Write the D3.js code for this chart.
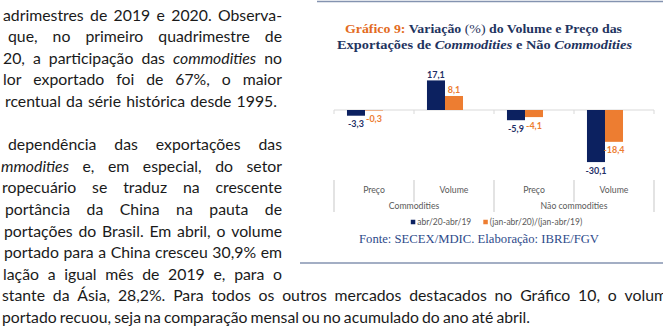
<!DOCTYPE html>
<html>
<head>
<meta charset="utf-8">
<script src="https://cdn.jsdelivr.net/npm/d3@7"></script>
<style>
html, body { margin: 0; padding: 0; background: #fff; overflow: hidden; }
svg { display: block; }
</style>
</head>
<body>
<div id="mainDiv"></div>
<script>
'use strict';

// dados do gráfico
var categorias     = ['Preço', 'Volume', 'Preço', 'Volume'];
var grupos         = ['Commodities', 'Commodities', 'Não commodities', 'Não commodities'];
var serieMensal    = [-3.3, 17.1, -5.9, -30.1];   // abr/20-abr/19
var serieAcumulada = [-0.3, 8.1, -4.1, -18.4];    // (jan-abr/20)/(jan-abr/19)
var nomesSeries    = ['abr/20-abr/19', '(jan-abr/20)/(jan-abr/19)'];
var coresSeries    = ['#0c2160', '#ed7d31'];
var coresRotulos   = ['#1f2f66', '#ed7d31'];

// texto do documento (linhas cortadas como no original)
var linhasTexto = [
    'adrimestres de 2019 e 2020. Observa-',
    'que, no primeiro quadrimestre de',
    '20, a participação das *commodities* no',
    'lor exportado foi de 67%, o maior',
    'rcentual da série histórica desde 1995.',
    '',
    'dependência das exportações das',
    '*mmodities* e, em especial, do setor',
    'ropecuário se traduz na crescente',
    'portância da China na pauta de',
    'portações do Brasil. Em abril, o volume',
    'portado para a China cresceu 30,9% em',
    'lação a igual mês de 2019 e, para o',
    'stante da Ásia, 28,2%. Para todos os outros mercados destacados no Gráfico 10, o volum',
    'portado recuou, seja na comparação mensal ou no acumulado do ano até abril.'
];

var doc = {};
doc.width = 663;
doc.height = 326;
doc.inicioLinha = [3, 8, 3, 3, 5, 0, 8, 1, 2, 5, 4, 4, 3, 2, 2];
doc.fimLinha    = [282, 282, 282, 282, 277, 0, 282, 282, 282, 282, 282, 282, 282, 667, 530];
doc.fonteTexto  = 15.8;

doc.area = {left: 334, right: 654, zero: 110};

doc.appendSVG = function(DOMObj){
    return d3.select(DOMObj)
        .append('svg')
        .attr('width', doc.width)
        .attr('height', doc.height);
}

doc.desenhaTexto = function(svg){
    var g = svg.append('g')
        .attr('font-family', 'Lato, "Open Sans", sans-serif')
        .attr('font-size', doc.fonteTexto)
        .attr('fill', '#1a1a1a');

    linhasTexto.forEach(function(linha, i){
        if (!linha) return;
        var y = 20.5 + 21.6 * i;
        var palavras = linha.split(' ');
        var nos = palavras.map(function(p){
            var italico = p.charAt(0) === '*';
            var t = g.append('text')
                .attr('y', y)
                .attr('font-style', italico ? 'italic' : null)
                .text(p.replace(/\*/g, ''));
            return {sel: t, w: t.node().getComputedTextLength()};
        });
        var x0 = doc.inicioLinha[i], x1 = doc.fimLinha[i];
        var soma = d3.sum(nos, function(d){ return d.w; });
        var minGap = doc.fonteTexto * 0.2;
        // se não couber, comprime levemente as palavras
        var escala = 1;
        if (soma + minGap * (nos.length - 1) > x1 - x0) {
            escala = (x1 - x0 - minGap * (nos.length - 1)) / soma;
        }
        var gap = nos.length > 1 ? (x1 - x0 - soma * escala) / (nos.length - 1) : 0;
        var x = x0;
        nos.forEach(function(n){
            n.sel.attr('x', x);
            if (escala < 1) {
                n.sel.attr('textLength', n.w * escala).attr('lengthAdjust', 'spacingAndGlyphs');
            }
            x += n.w * escala + gap;
        });
    });
}

doc.desenhaMoldura = function(svg){
    svg.append('line')
        .attr('x1', 317).attr('x2', 663).attr('y1', 1.5).attr('y2', 1.5)
        .attr('stroke', '#8493b0').attr('stroke-width', 1.5);
    svg.append('line')
        .attr('x1', 300).attr('x2', 663).attr('y1', 263).attr('y2', 263)
        .attr('stroke', '#8493b0').attr('stroke-width', 1.5);

    var titulo = svg.append('g')
        .attr('font-family', '"Liberation Serif", "DejaVu Serif", serif')
        .attr('font-weight', 'bold')
        .attr('font-size', 13)
        .attr('text-anchor', 'middle');

    var l1 = titulo.append('text').attr('x', 483.5).attr('y', 32.5)
        .attr('textLength', 277).attr('lengthAdjust', 'spacingAndGlyphs');
    l1.append('tspan').attr('fill', '#e36c1f').text('Gráfico 9:');
    l1.append('tspan').attr('fill', '#1f3460').text(' Variação ');
    l1.append('tspan').attr('fill', '#1f3460').attr('font-weight', 'normal').text('(%)');
    l1.append('tspan').attr('fill', '#1f3460').text(' do Volume e Preço das');

    var l2 = titulo.append('text').attr('x', 484.5).attr('y', 48.5).attr('fill', '#1f3460')
        .attr('textLength', 295).attr('lengthAdjust', 'spacingAndGlyphs');
    l2.append('tspan').text('Exportações de ');
    l2.append('tspan').attr('font-style', 'italic').text('Commodities');
    l2.append('tspan').text(' e Não ');
    l2.append('tspan').attr('font-style', 'italic').text('Commodities');

    svg.append('text')
        .attr('x', 479).attr('y', 242.5)
        .attr('text-anchor', 'middle')
        .attr('font-family', '"Liberation Serif", "DejaVu Serif", serif')
        .attr('font-size', 13)
        .attr('fill', '#2d4a8a')
        .attr('textLength', 240).attr('lengthAdjust', 'spacingAndGlyphs')
        .text('Fonte: SECEX/MDIC. Elaboração: IBRE/FGV');
}

doc.desenhaGrafico = function(svg){
    var area = doc.area;
    var series = [serieMensal, serieAcumulada];

    var xScale = d3.scaleBand()
        .domain(d3.range(categorias.length))
        .range([area.left, area.right]);

    // três posições por grupo, a terceira fica vazia (como no original)
    var serieScale = d3.scaleBand()
        .domain([0, 1, 2])
        .range([0, xScale.bandwidth()])
        .paddingOuter(0.72);

    var pxPorPonto = 1.73;
    var yScale = d3.scaleLinear()
        .domain([-35, 20])
        .range([area.zero + 35 * pxPorPonto, area.zero - 20 * pxPorPonto]);

    var g = svg.append('g');

    // eixo zero
    g.append('line')
        .attr('x1', area.left).attr('x2', area.right)
        .attr('y1', yScale(0)).attr('y2', yScale(0))
        .attr('stroke', '#d9d9d9').attr('stroke-width', 1);

    var divisas = d3.range(categorias.length + 1).map(function(i){
        return i < categorias.length ? xScale(i) : area.right;
    });
    g.selectAll('.tickZero')
        .data(divisas)
        .enter().append('line')
        .attr('x1', function(d){ return d; }).attr('x2', function(d){ return d; })
        .attr('y1', yScale(0)).attr('y2', yScale(0) + 4)
        .attr('stroke', '#d9d9d9');

    var formato = function(v){ return d3.format('.1f')(v).replace('.', ',').replace('−', '-'); };

    series.forEach(function(valores, s){
        var dados = valores.map(function(v, i){ return {i: i, v: v}; });

        g.selectAll('.barra' + s)
            .data(dados)
            .enter().append('rect')
            .attr('x', function(d){ return xScale(d.i) + serieScale(s); })
            .attr('y', function(d){ return Math.min(yScale(d.v), yScale(0)); })
            .attr('width', serieScale.bandwidth())
            .attr('height', function(d){ return Math.abs(yScale(d.v) - yScale(0)); })
            .attr('fill', coresSeries[s]);

        g.selectAll('.rotulo' + s)
            .data(dados)
            .enter().append('text')
            .attr('x', function(d){ return xScale(d.i) + serieScale(s) + serieScale.bandwidth() / 2; })
            .attr('y', function(d){ return d.v >= 0 ? yScale(d.v) - 6 : yScale(d.v) + 8.5; })
            .attr('dy', '0.35em')
            .attr('text-anchor', 'middle')
            .attr('font-family', 'Lato, sans-serif')
            .attr('font-weight', 'bold')
            .attr('font-size', 9)
            .attr('fill', coresRotulos[s])
            .text(function(d){ return formato(d.v); });
    });

    // eixo de categorias em dois níveis (na base)
    var yCat = 190, yGrupo = 206;
    var nomesGrupos = Array.from(new Set(grupos));

    g.selectAll('.separador')
        .data(divisas)
        .enter().append('line')
        .attr('x1', function(d){ return d; }).attr('x2', function(d){ return d; })
        .attr('y1', 180)
        .attr('y2', function(d, i){ return i % 2 === 0 ? 212 : 202; })
        .attr('stroke', '#d0d0d0').attr('stroke-width', 1.2);

    g.selectAll('.categoria')
        .data(categorias)
        .enter().append('text')
        .attr('x', function(d, i){ return xScale(i) + xScale.bandwidth() / 2; })
        .attr('y', yCat)
        .attr('dy', '0.35em')
        .attr('text-anchor', 'middle')
        .attr('font-family', 'Lato, sans-serif')
        .attr('font-size', 8.7)
        .attr('fill', '#595959')
        .text(function(d){ return d; });

    g.selectAll('.grupo')
        .data(nomesGrupos)
        .enter().append('text')
        .attr('x', function(d){
            var idx = grupos.map(function(gr, i){ return gr === d ? i : -1; }).filter(function(i){ return i >= 0; });
            return (xScale(idx[0]) + xScale(idx[idx.length - 1]) + xScale.bandwidth()) / 2;
        })
        .attr('y', yGrupo)
        .attr('dy', '0.35em')
        .attr('text-anchor', 'middle')
        .attr('font-family', 'Lato, sans-serif')
        .attr('font-size', 8.7)
        .attr('fill', '#595959')
        .text(function(d){ return d; });

    // legenda
    var leg = g.append('g')
        .attr('font-family', 'Lato, sans-serif')
        .attr('font-size', 8.5)
        .attr('fill', '#595959');
    var itens = nomesSeries.map(function(nome, s){
        var t = leg.append('text').attr('y', 222).attr('dy', '0.35em').text(nome);
        return {t: t, w: t.node().getComputedTextLength(), s: s};
    });
    var quad = 4.5, espaco = 2, entre = 12;
    var total = d3.sum(itens, function(d){ return quad + espaco + d.w; }) + entre;
    var x = 496.5 - total / 2;
    itens.forEach(function(it){
        leg.append('rect')
            .attr('x', x).attr('y', 222 - quad / 2)
            .attr('width', quad).attr('height', quad)
            .attr('fill', coresSeries[it.s]);
        it.t.attr('x', x + quad + espaco);
        x += quad + espaco + it.w + entre;
    });
}

doc.start = function(){
    var svg = doc.appendSVG('#mainDiv');
    doc.desenhaTexto(svg);
    doc.desenhaMoldura(svg);
    doc.desenhaGrafico(svg);
}

window.onload = doc.start;
</script>
</body>
</html>
